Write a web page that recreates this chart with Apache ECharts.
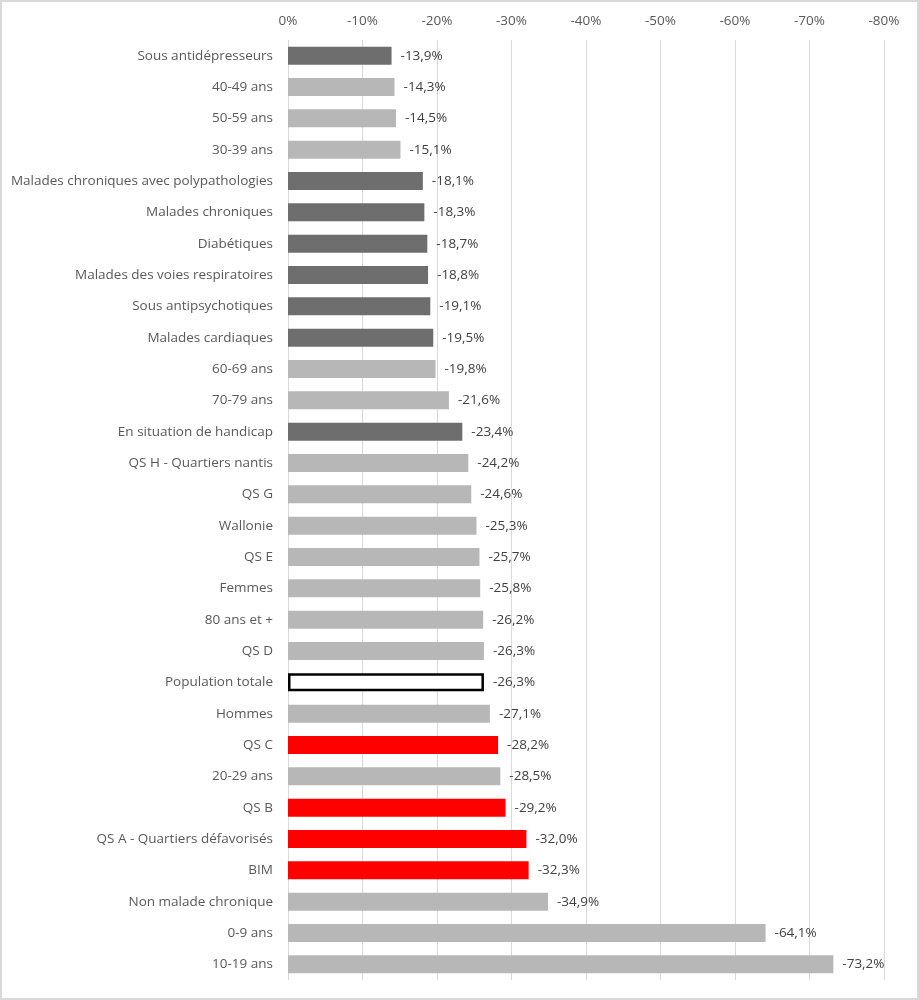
<!DOCTYPE html>
<html>
<head>
<meta charset="utf-8">
<script src="https://cdn.jsdelivr.net/npm/echarts@6/dist/echarts.min.js"></script>
<style>
  html, body { margin: 0; padding: 0; background: #fff; }
  #chart { width: 919px; height: 1000px; box-sizing: border-box; border: 2px solid #d9d9d9; }
</style>
</head>
<body>
<div id="chart"></div>
<script>
// catégories, de haut en bas
const categories = [
  'Sous antidépresseurs', '40-49 ans', '50-59 ans', '30-39 ans',
  'Malades chroniques avec polypathologies', 'Malades chroniques', 'Diabétiques',
  'Malades des voies respiratoires', 'Sous antipsychotiques', 'Malades cardiaques',
  '60-69 ans', '70-79 ans', 'En situation de handicap', 'QS H - Quartiers nantis',
  'QS G', 'Wallonie', 'QS E', 'Femmes', '80 ans et +', 'QS D', 'Population totale',
  'Hommes', 'QS C', '20-29 ans', 'QS B', 'QS A - Quartiers défavorisés', 'BIM',
  'Non malade chronique', '0-9 ans', '10-19 ans'
];
const values = [
  -13.9, -14.3, -14.5, -15.1, -18.1, -18.3, -18.7, -18.8, -19.1, -19.5,
  -19.8, -21.6, -23.4, -24.2, -24.6, -25.3, -25.7, -25.8, -26.2, -26.3,
  -26.3, -27.1, -28.2, -28.5, -29.2, -32.0, -32.3, -34.9, -64.1, -73.2
];
// groupe de chaque barre
const groups = [
  'maladie', 'age', 'age', 'age', 'maladie', 'maladie', 'maladie',
  'maladie', 'maladie', 'maladie', 'age', 'age', 'maladie', 'autre',
  'autre', 'autre', 'autre', 'autre', 'age', 'autre', 'total',
  'autre', 'defavorise', 'age', 'defavorise', 'defavorise', 'defavorise',
  'autre', 'age', 'age'
];
const xTicks = [0, -10, -20, -30, -40, -50, -60, -70, -80];

const groupStyle = {
  maladie: {color: '#6e6e6e'},
  age: {color: '#b7b7b7'},
  autre: {color: '#b7b7b7'},
  defavorise: {color: '#ff0000'},
  total: {color: '#ffffff', borderColor: '#000000', borderWidth: 2.5}
};

const font = '"Open Sans", sans-serif';
const chart = echarts.init(document.getElementById('chart'));
chart.setOption({
  animation: false,
  grid: {left: 286, right: 33, top: 38, bottom: 18},
  xAxis: {
    type: 'value',
    position: 'top',
    inverse: true,
    min: xTicks[xTicks.length - 1],
    max: xTicks[0],
    interval: 10,
    axisLine: {show: false},
    axisTick: {show: false},
    axisLabel: {
      margin: 12,
      color: '#595959',
      fontSize: 13.5,
      fontFamily: font,
      formatter: v => v + '%'
    },
    splitLine: {lineStyle: {color: '#d9d9d9', width: 1}}
  },
  yAxis: {
    type: 'category',
    inverse: true,
    data: categories,
    axisLine: {show: false},
    axisTick: {show: false},
    axisLabel: {margin: 15, color: '#595959', fontSize: 13.5, fontFamily: font}
  },
  series: [{
    type: 'bar',
    barWidth: 18,
    data: values.map((v, i) => ({value: v, itemStyle: groupStyle[groups[i]]})),
    label: {
      show: true,
      position: 'right',
      distance: 9,
      color: '#404040',
      fontSize: 13.5,
      fontFamily: font,
      formatter: p => p.value.toFixed(1).replace('.', ',') + '%'
    }
  }]
});
</script>
</body>
</html>
